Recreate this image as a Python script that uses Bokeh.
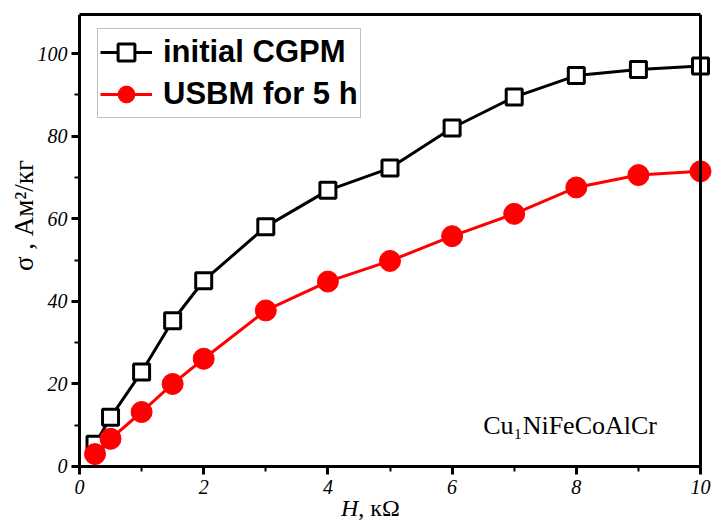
import math
from bokeh.plotting import figure
from bokeh.models import (Legend, LegendItem, Label, SingleIntervalTicker,
                          FixedTicker, Range1d, LinearAxis)
from bokeh.embed import file_html
from bokeh.resources import INLINE

# Data
h_values = [0.25, 0.5, 1, 1.5, 2, 3, 4, 5, 6, 7, 8, 9, 10]
sigma_initial = [5.4, 11.9, 22.9, 35.3, 45.0, 58.1, 66.9, 72.3, 82.0, 89.5, 94.7, 96.2, 97.0]
sigma_usbm = [3.0, 6.7, 13.2, 20.0, 26.1, 37.8, 44.8, 49.8, 55.8, 61.2, 67.6, 70.6, 71.5]

series_labels = ["initial CGPM", "USBM for 5 h"]
x_label_italic = "H"
x_label_rest = ", кΩ"
y_label = "σ , Ам²/кг"
sample_label = "Cu₁NiFeCoAlCr"

# axis extents of the boxed plot area
X_MIN, X_MAX = 0, 10
Y_MIN, Y_MAX = 0, 109.5
# the frame covers the whole canvas, so axes / labels are drawn inside it
FRAME_X = (-1.272, 10.193)
FRAME_Y = (-13.81, Y_MAX)

SERIF = "Liberation Serif"

p = figure(width=712, height=523,
           x_range=Range1d(*FRAME_X), y_range=Range1d(*FRAME_Y),
           x_axis_location=None, y_axis_location=None,
           output_backend="svg", toolbar_location=None,
           min_border_left=0, min_border_right=0,
           min_border_top=14, min_border_bottom=0)

p.background_fill_color = "white"
p.border_fill_color = "white"
p.outline_line_color = None
p.grid.visible = False


def style_axis(ax):
    ax.axis_line_width = 3
    ax.axis_line_color = "black"
    ax.major_tick_line_width = 3
    ax.minor_tick_line_width = 2
    ax.major_tick_out = 8
    ax.major_tick_in = 0
    ax.minor_tick_out = 5
    ax.minor_tick_in = 0
    ax.major_label_text_font = SERIF
    ax.major_label_text_font_style = "italic"
    ax.major_label_text_font_size = "20px"
    ax.major_label_text_color = "black"


xaxis = LinearAxis(ticker=SingleIntervalTicker(interval=2, num_minor_ticks=2),
                   fixed_location=Y_MIN, bounds=(X_MIN, X_MAX))
style_axis(xaxis)
xaxis.major_label_standoff = 6
p.add_layout(xaxis, "below")

yaxis = LinearAxis(ticker=SingleIntervalTicker(interval=20, num_minor_ticks=2),
                   fixed_location=X_MIN, bounds=(Y_MIN, Y_MAX))
style_axis(yaxis)
yaxis.major_label_standoff = 4
p.add_layout(yaxis, "left")

# Box: top and right edges as tickless axes
top_axis = LinearAxis(ticker=FixedTicker(ticks=[]), axis_line_width=3,
                      axis_line_color="black", major_tick_out=0, minor_tick_out=0,
                      major_label_text_font_size="0px", bounds=(X_MIN, X_MAX))
right_axis = LinearAxis(ticker=FixedTicker(ticks=[]), axis_line_width=3,
                        axis_line_color="black", major_tick_out=0, minor_tick_out=0,
                        major_label_text_font_size="0px", bounds=(Y_MIN, Y_MAX),
                        fixed_location=X_MAX)
p.add_layout(top_axis, "above")
p.add_layout(right_axis, "right")

# Series
l1 = p.line(h_values, sigma_initial, line_color="black", line_width=3)
s1 = p.scatter(h_values, sigma_initial, marker="square", size=16,
               fill_color="white", line_color="black", line_width=3)
l2 = p.line(h_values, sigma_usbm, line_color="#ff0000", line_width=3)
s2 = p.scatter(h_values, sigma_usbm, marker="circle", size=21,
               fill_color="#ff0000", line_color="#ff0000", line_width=1)

legend = Legend(items=[LegendItem(label=series_labels[0], renderers=[l1, s1]),
                       LegendItem(label=series_labels[1], renderers=[l2, s2])],
                location=(97, 405), margin=0,
                glyph_width=52, glyph_height=42, label_height=42,
                spacing=-3, padding=2, label_standoff=11,
                label_text_font="Liberation Sans", label_text_font_style="bold",
                label_text_font_size="31px", label_text_color="black",
                border_line_color="#808080", border_line_width=1,
                background_fill_color="white", background_fill_alpha=1.0)
p.add_layout(legend, "center")

# Y axis title (rotated)
p.add_layout(Label(x=-0.90, y=60.8, text=y_label, angle=math.pi / 2,
                   text_align="center", text_baseline="middle",
                   text_font=SERIF, text_font_size="27px",
                   text_color="black"))

# X axis title with italic H
p.add_layout(Label(x=4.49, y=-10.1, text=x_label_italic, text_align="right",
                   text_baseline="middle", text_font=SERIF,
                   text_font_style="italic", text_font_size="24px",
                   text_color="black"))
p.add_layout(Label(x=4.49, y=-10.1, text=x_label_rest, text_align="left",
                   text_baseline="middle", text_font=SERIF,
                   text_font_style="normal", text_font_size="24px",
                   text_color="black"))

# Sample annotation
p.add_layout(Label(x=7.9, y=10.0, text=sample_label, text_align="center",
                   text_baseline="middle", text_font=SERIF,
                   text_font_size="26px", text_color="black"))

open("out.html", "w").write(file_html(p, INLINE))
